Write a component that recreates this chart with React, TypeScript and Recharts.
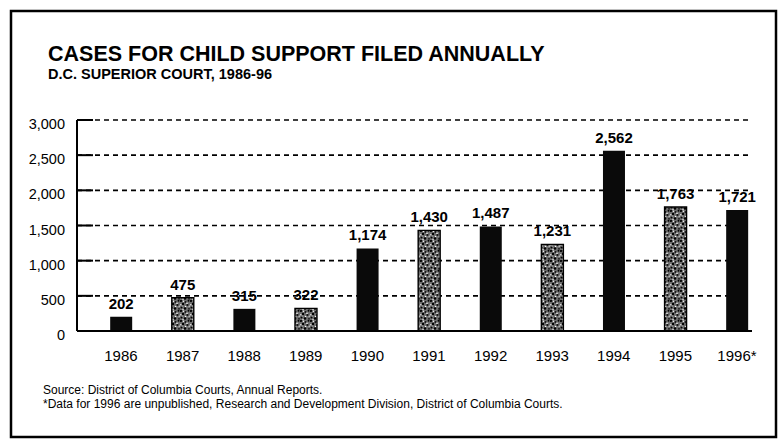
import { BarChart, Bar, Cell, XAxis, YAxis, CartesianGrid, LabelList } from 'recharts';

const years = ['1986', '1987', '1988', '1989', '1990', '1991', '1992', '1993', '1994', '1995', '1996*'];
const cases = [202, 475, 315, 322, 1174, 1430, 1487, 1231, 2562, 1763, 1721];
const yTicks = [0, 500, 1000, 1500, 2000, 2500, 3000];

const data = years.map((year, i) => ({ idx: i, year, value: cases[i] }));
const xTicks = data.map((d) => d.idx);
// little upward marks on the baseline, just right of each bar
const baseMarks = data.map((d) => d.idx + 0.3);

const FONT = '"Liberation Sans", Arial, Helvetica, sans-serif';
const fmt = (v: number) => v.toLocaleString('en-US');

// speckle layout for the grey screen tone: [x, y, r, colour]
const specks: [number, number, number, string][] = [
  [1, 1, 1.1, '#000'], [5.5, 2, 1, '#111'], [8.5, 0.8, 0.9, '#000'],
  [3, 4, 1.2, '#000'], [7.5, 5, 1.1, '#111'], [1.5, 7.5, 1, '#000'],
  [5, 8.5, 1.2, '#000'], [9, 8.8, 0.9, '#111'], [3.5, 1.2, 0.7, '#fff'],
  [7, 3.2, 0.8, '#fff'], [0.8, 4.8, 0.7, '#f4f4f4'], [5.6, 6.4, 0.7, '#fff'],
  [9.2, 6.2, 0.6, '#eee'], [3, 9.4, 0.6, '#fff'], [2.2, 6, 0.5, '#ddd'],
];

function YTick({ x, y, payload }: any) {
  return (
    <g>
      {payload.value > 0 && (
        <line x1={x + 12} x2={x + 28} y1={y} y2={y} stroke="#000" strokeWidth={2} />
      )}
      <text x={x} y={y} dy={9} textAnchor="end" fontSize={14.5} fontFamily={FONT} fill="#000">
        {fmt(payload.value)}
      </text>
    </g>
  );
}

export default function App() {
  return (
    <div style={{ position: 'absolute', left: 0, top: 0, width: 780, height: 440, background: '#fff' }}>
      <BarChart
        width={780}
        height={440}
        data={data}
        margin={{ top: 120, right: 28, left: 17, bottom: 79 }}
      >
        <defs>
          <pattern id="stipple" patternUnits="userSpaceOnUse" width="10" height="10">
            <rect width="10" height="10" fill="#6e6e6e" />
            {specks.map(([cx, cy, r, c], i) => (
              <circle key={i} cx={cx} cy={cy} r={r} fill={c} />
            ))}
          </pattern>
        </defs>
        <CartesianGrid
          vertical={false}
          horizontalValues={yTicks.filter((t) => t > 0)}
          stroke="#000"
          strokeWidth={1.6}
          strokeDasharray="5 4"
        />
        <XAxis
          dataKey="idx"
          type="number"
          domain={[-0.714, 10.244]}
          ticks={xTicks}
          interval={0}
          tickFormatter={(i: number) => years[i]}
          tickLine={false}
          tickSize={0}
          tickMargin={19}
          height={30}
          axisLine={{ stroke: '#000', strokeWidth: 2.2 }}
          tick={{ fill: '#000', fontSize: 15, fontFamily: FONT }}
        />
        <XAxis
          xAxisId="marks"
          dataKey="idx"
          type="number"
          domain={[-0.714, 10.244]}
          ticks={baseMarks}
          interval={0}
          mirror
          tick={false}
          tickSize={5}
          tickLine={{ stroke: '#000', strokeWidth: 1.5 }}
          axisLine={false}
          height={0}
        />
        <YAxis
          domain={[0, 3000]}
          ticks={yTicks}
          interval={0}
          width={60}
          tickSize={0}
          tickMargin={12}
          tickLine={false}
          axisLine={{ stroke: '#000', strokeWidth: 2 }}
          tick={<YTick />}
        />
        <Bar dataKey="value" barSize={22} isAnimationActive={false}>
          {data.map((d, i) => (
            <Cell
              key={d.year}
              fill={i % 2 === 0 ? '#0a0a0a' : 'url(#stipple)'}
              stroke={i % 2 === 0 ? 'none' : '#000'}
              strokeWidth={1.4}
            />
          ))}
          <LabelList
            dataKey="value"
            position="top"
            offset={8}
            formatter={(v: any) => fmt(Number(v))}
            fill="#000"
            fontSize={15}
            fontWeight={700}
            fontFamily={FONT}
          />
        </Bar>
      </BarChart>

      <svg
        width={780}
        height={440}
        style={{ position: 'absolute', left: 0, top: 0, pointerEvents: 'none' }}
        fontFamily={FONT}
      >
        <rect x={11} y={11} width={765} height={426} fill="none" stroke="#000" strokeWidth={2.5} />
        <text x={48} y={61} fontSize={21.5} fontWeight={700} fill="#000">
          CASES FOR CHILD SUPPORT FILED ANNUALLY
        </text>
        <text x={48} y={79} fontSize={14.5} fontWeight={700} fill="#000">
          D.C. SUPERIOR COURT, 1986-96
        </text>
        <text x={43} y={394} fontSize={12} fill="#000">
          Source: District of Columbia Courts, Annual Reports.
        </text>
        <text x={43} y={408} fontSize={12} fill="#000">
          *Data for 1996 are unpublished, Research and Development Division, District of Columbia Courts.
        </text>
      </svg>
    </div>
  );
}
